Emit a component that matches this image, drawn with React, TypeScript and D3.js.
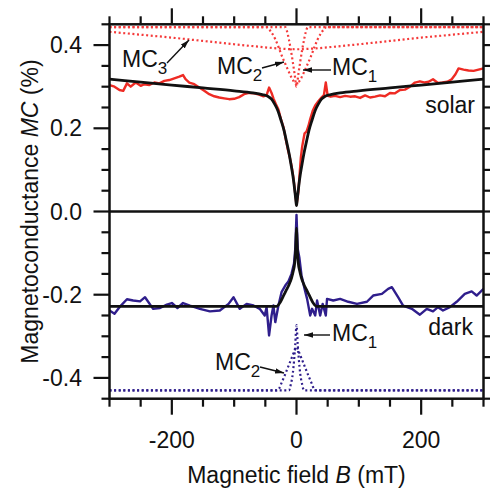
import React from "react";
import * as d3 from "d3";

// field axis (mT) and MC axis (%)
const xMajorTicks = [-200, 0, 200];
const xMinorTicks = [-300, -250, -150, -100, -50, 50, 100, 150, 250, 300];
const yMajorTicks = [-0.4, -0.2, 0, 0.2, 0.4];
const yMinorTicks = [-0.45, -0.35, -0.3, -0.25, -0.15, -0.1, -0.05, 0.05, 0.1, 0.15, 0.25, 0.3, 0.35, 0.45];
const yTickLabels = ["-0.4", "-0.2", "0.0", "0.2", "0.4"];

// solar: measured MC(B)
const solarData: [number, number][] = [
  [-300, 0.304], [-292, 0.3], [-284, 0.292], [-278, 0.29], [-272, 0.308], [-266, 0.3],
  [-258, 0.31], [-250, 0.302], [-244, 0.306], [-236, 0.304], [-228, 0.31], [-220, 0.308],
  [-212, 0.314], [-204, 0.316], [-196, 0.32], [-188, 0.324], [-182, 0.328], [-178, 0.318],
  [-172, 0.31], [-164, 0.306], [-156, 0.298], [-148, 0.29], [-140, 0.282], [-132, 0.277],
  [-124, 0.274], [-116, 0.272], [-108, 0.27], [-100, 0.271], [-92, 0.275], [-84, 0.282],
  [-76, 0.285], [-68, 0.284], [-60, 0.281], [-53, 0.277], [-48, 0.28], [-44, 0.298],
  [-40, 0.285], [-37, 0.272], [-33, 0.258], [-29, 0.245], [-25, 0.222], [-21, 0.203],
  [-17, 0.172], [-14, 0.15], [-11, 0.132], [-8, 0.11], [-5, 0.082], [-3, 0.055],
  [-1.5, 0.035], [0, 0.016], [1.5, 0.03], [3, 0.048], [5, 0.09], [7, 0.13], [9, 0.155],
  [11, 0.172], [13, 0.188], [16, 0.192], [19, 0.205], [22, 0.222], [26, 0.242], [30, 0.255],
  [35, 0.265], [40, 0.274], [44, 0.28], [47, 0.31], [50, 0.278], [55, 0.276], [62, 0.278],
  [70, 0.275], [78, 0.278], [86, 0.276], [94, 0.277], [102, 0.273], [110, 0.279], [118, 0.274],
  [126, 0.276], [134, 0.279], [142, 0.277], [150, 0.285], [158, 0.284], [166, 0.292],
  [174, 0.293], [182, 0.3], [190, 0.31], [198, 0.313], [206, 0.31], [212, 0.312], [219, 0.318],
  [227, 0.309], [234, 0.31], [242, 0.312], [249, 0.318], [255, 0.33], [260, 0.344],
  [268, 0.341], [276, 0.339], [284, 0.338], [292, 0.341], [300, 0.344],
];

// solar: fit
const solarFit: [number, number][] = [
  [-300, 0.318], [-250, 0.311], [-200, 0.304], [-150, 0.297], [-100, 0.29], [-70, 0.285],
  [-55, 0.281], [-46, 0.277], [-40, 0.27], [-35, 0.258], [-30, 0.243], [-25, 0.22],
  [-20, 0.195], [-16, 0.168], [-12, 0.14], [-9, 0.115], [-6, 0.088], [-4, 0.066],
  [-2, 0.04], [-1, 0.026], [0, 0.014], [1, 0.026], [2, 0.04], [4, 0.066], [6, 0.088],
  [9, 0.115], [12, 0.14], [16, 0.168], [20, 0.195], [25, 0.22], [30, 0.243], [35, 0.258],
  [40, 0.27], [46, 0.277], [55, 0.281], [70, 0.285], [100, 0.29], [150, 0.297],
  [200, 0.304], [250, 0.311], [300, 0.318],
];

// solar: components (offset)
const solarMC1: [number, number][] = [
  [-300, 0.443], [-18, 0.443], [-15, 0.432], [-12, 0.412], [-9, 0.388], [-6, 0.36],
  [-3, 0.33], [0, 0.3], [3, 0.33], [6, 0.36], [9, 0.388], [12, 0.412], [15, 0.432],
  [18, 0.443], [300, 0.443],
];
const solarMC2: [number, number][] = [
  [-300, 0.443], [-48, 0.443], [-44, 0.438], [-40, 0.43], [-34, 0.414], [-29, 0.396],
  [-24, 0.376], [-18, 0.355], [-13, 0.338], [-8, 0.322], [-4, 0.312], [0, 0.306],
  [4, 0.312], [8, 0.322], [13, 0.338], [18, 0.355], [24, 0.376], [29, 0.396], [34, 0.414],
  [40, 0.43], [44, 0.438], [48, 0.443], [300, 0.443],
];
const solarMC3: [number, number][] = [
  [-300, 0.432], [-250, 0.425], [-200, 0.418], [-150, 0.41], [-100, 0.402], [-60, 0.396],
  [-30, 0.392], [0, 0.39], [30, 0.392], [60, 0.396], [100, 0.402], [150, 0.41],
  [200, 0.418], [250, 0.425], [300, 0.432],
];

// dark: measured MC(B)
const darkData: [number, number][] = [
  [-300, -0.238], [-292, -0.246], [-284, -0.23], [-272, -0.211], [-262, -0.214], [-251, -0.216],
  [-243, -0.206], [-230, -0.234], [-219, -0.232], [-208, -0.224], [-200, -0.22], [-191, -0.232],
  [-182, -0.22], [-171, -0.226], [-155, -0.234], [-139, -0.24], [-123, -0.238], [-109, -0.222],
  [-101, -0.206], [-91, -0.234], [-80, -0.222], [-69, -0.226], [-59, -0.234], [-51, -0.25],
  [-48, -0.23], [-44, -0.298], [-40, -0.25], [-37, -0.226], [-34, -0.266], [-29, -0.226],
  [-24, -0.194], [-18, -0.178], [-13, -0.168], [-8, -0.15], [-4, -0.125], [-2, -0.09],
  [-1, -0.05], [0, -0.008], [1, -0.05], [2, -0.09], [4.5, -0.11], [8, -0.153], [13, -0.186],
  [17, -0.21], [22, -0.25], [25, -0.234], [30, -0.25], [33, -0.214], [38, -0.25], [42, -0.222],
  [47, -0.25], [49, -0.21], [59, -0.214], [70, -0.21], [83, -0.217], [97, -0.222], [113, -0.217],
  [123, -0.202], [137, -0.198], [147, -0.186], [153, -0.182], [163, -0.206], [171, -0.226],
  [185, -0.234], [198, -0.248], [209, -0.234], [219, -0.24], [227, -0.23], [235, -0.238],
  [246, -0.23], [257, -0.217], [270, -0.198], [281, -0.192], [289, -0.202], [300, -0.186],
];

// dark: fit
const darkFit: [number, number][] = [
  [-300, -0.228], [-32, -0.228], [-26, -0.218], [-21, -0.203], [-16, -0.188], [-12, -0.176],
  [-8, -0.16], [-5, -0.142], [-3, -0.125], [-1.5, -0.095], [-0.7, -0.065], [0, -0.04],
  [0.7, -0.065], [1.5, -0.095], [3, -0.125], [5, -0.142], [8, -0.16], [12, -0.176],
  [16, -0.188], [21, -0.203], [26, -0.218], [32, -0.228], [300, -0.228],
];

// dark: components (offset)
const darkMC1: [number, number][] = [
  [-300, -0.43], [-12, -0.43], [-9, -0.415], [-6, -0.39], [-4, -0.36], [-2, -0.32], [0, -0.273],
  [2, -0.32], [4, -0.36], [6, -0.39], [9, -0.415], [12, -0.43], [300, -0.43],
];
const darkMC2: [number, number][] = [
  [-300, -0.43], [-32, -0.43], [-28, -0.426], [-24, -0.412], [-20, -0.398], [-16, -0.383],
  [-12, -0.368], [-8, -0.353], [-4, -0.338], [0, -0.326], [4, -0.338], [8, -0.353],
  [12, -0.368], [16, -0.383], [20, -0.398], [24, -0.412], [28, -0.426], [32, -0.43], [300, -0.43],
];

const W = 490;
const H = 488;
const FONT = "'Liberation Sans', Arial, sans-serif";
const RED = "#ee2b24";
const RED_DOT = "#f53a3a";
const BLUE = "#2f1e8c";

export default function App() {
  const x = d3.scaleLinear().domain([-300, 300]).range([109.5, 483.5]);
  const y = d3.scaleLinear().domain([-0.45, 0.45]).range([398.7, 24.3]);

  const line = d3
    .line<[number, number]>()
    .x((d) => x(d[0]))
    .y((d) => y(d[1]));
  const smooth = d3
    .line<[number, number]>()
    .x((d) => x(d[0]))
    .y((d) => y(d[1]))
    .curve(d3.curveMonotoneX);

  const [x0, x1] = x.range();
  const [yb, yt] = y.range();

  const dotted = { fill: "none", strokeWidth: 2.2, strokeDasharray: "2 2.6" };

  // subscript label like MC₁
  const mcLabel = (lx: number, ly: number, sub: string) => (
    <text x={lx} y={ly} fontSize={23} fill="#111">
      MC
      <tspan fontSize={17} dy={7}>
        {sub}
      </tspan>
    </text>
  );

  return (
    <svg
      width={W}
      height={H}
      style={{ position: "absolute", left: 0, top: 0, background: "#fff" }}
      fontFamily={FONT}
    >
      <defs>
        <clipPath id="plot">
          <rect x={x0} y={yt} width={x1 - x0} height={yb - yt} />
        </clipPath>
        <marker
          id="arrow"
          viewBox="0 0 10 6"
          refX={10}
          refY={3}
          markerWidth={9}
          markerHeight={5.5}
          markerUnits="userSpaceOnUse"
          orient="auto"
        >
          <path d="M0,0 L10,3 L0,6 z" fill="#111" />
        </marker>
      </defs>

      <g clipPath="url(#plot)">
        {/* component curves */}
        <path d={smooth(solarMC3) || ""} stroke={RED_DOT} {...dotted} />
        <path d={smooth(solarMC2) || ""} stroke={RED_DOT} {...dotted} />
        <path d={smooth(solarMC1) || ""} stroke={RED_DOT} {...dotted} />
        <path d={smooth(darkMC2) || ""} stroke={BLUE} {...dotted} />
        <path d={smooth(darkMC1) || ""} stroke={BLUE} {...dotted} />

        {/* measured */}
        <path d={line(solarData) || ""} fill="none" stroke={RED} strokeWidth={2.4} strokeLinejoin="round" />
        <path d={line(darkData) || ""} fill="none" stroke={BLUE} strokeWidth={2.4} strokeLinejoin="round" />

        {/* fits */}
        <path d={smooth(solarFit) || ""} fill="none" stroke="#111" strokeWidth={2.8} />
        <path d={smooth(darkFit) || ""} fill="none" stroke="#111" strokeWidth={2.8} />

        {/* zero line */}
        <line x1={x0} x2={x1} y1={y(0)} y2={y(0)} stroke="#111" strokeWidth={2.5} />
      </g>

      {/* frame */}
      <rect x={x0} y={yt} width={x1 - x0} height={yb - yt} fill="none" stroke="#111" strokeWidth={2.5} />

      {/* x ticks, bottom and top, pointing out */}
      {[...xMajorTicks.map((t) => [t, 16]), ...xMinorTicks.map((t) => [t, 8])].map(([t, len]) => (
        <g key={"xt" + t} stroke="#111" strokeWidth={2.2}>
          <line x1={x(t)} x2={x(t)} y1={yb} y2={yb + len} />
          <line x1={x(t)} x2={x(t)} y1={yt} y2={yt - len} />
        </g>
      ))}
      {/* y ticks, left and right */}
      {[...yMajorTicks.map((t) => [t, 16]), ...yMinorTicks.map((t) => [t, 8])].map(([t, len]) => (
        <g key={"yt" + t} stroke="#111" strokeWidth={2.2}>
          <line x1={x0} x2={x0 - len} y1={y(t)} y2={y(t)} />
          <line x1={x1} x2={x1 + len} y1={y(t)} y2={y(t)} />
        </g>
      ))}

      {/* tick labels */}
      {xMajorTicks.map((t) => (
        <text key={"xl" + t} x={x(t)} y={448} textAnchor="middle" fontSize={23} fill="#111">
          {t}
        </text>
      ))}
      {yMajorTicks.map((t, i) => (
        <text key={"yl" + t} x={82} y={y(t)} dy="0.35em" textAnchor="end" fontSize={23} fill="#111">
          {yTickLabels[i]}
        </text>
      ))}

      {/* axis titles */}
      <text x={(x0 + x1) / 2} y={483} textAnchor="middle" fontSize={23} fill="#111">
        Magnetic field <tspan fontStyle="italic">B</tspan> (mT)
      </text>
      <text
        transform={`translate(38,${(yt + yb) / 2}) rotate(-90)`}
        textAnchor="middle"
        fontSize={23}
        fill="#111"
      >
        Magnetoconductance <tspan fontStyle="italic">MC</tspan> (%)
      </text>

      {/* annotations */}
      {mcLabel(122, 67, "3")}
      <line x1={167} y1={63} x2={189} y2={40} stroke="#111" strokeWidth={1.4} markerEnd="url(#arrow)" />
      {mcLabel(217, 74, "2")}
      <line x1={262} y1={68} x2={284} y2={62} stroke="#111" strokeWidth={1.4} markerEnd="url(#arrow)" />
      {mcLabel(332, 75, "1")}
      <line x1={331} y1={70} x2={303} y2={70} stroke="#111" strokeWidth={1.4} markerEnd="url(#arrow)" />

      {mcLabel(332, 341, "1")}
      <line x1={330} y1={335} x2={304} y2={335} stroke="#111" strokeWidth={1.4} markerEnd="url(#arrow)" />
      {mcLabel(215, 370, "2")}
      <line x1={260} y1={367} x2={284} y2={373} stroke="#111" strokeWidth={1.4} markerEnd="url(#arrow)" />

      <text x={475} y={113} textAnchor="end" fontSize={23} fill="#111">
        solar
      </text>
      <text x={473} y={335} textAnchor="end" fontSize={23} fill="#111">
        dark
      </text>
    </svg>
  );
}
